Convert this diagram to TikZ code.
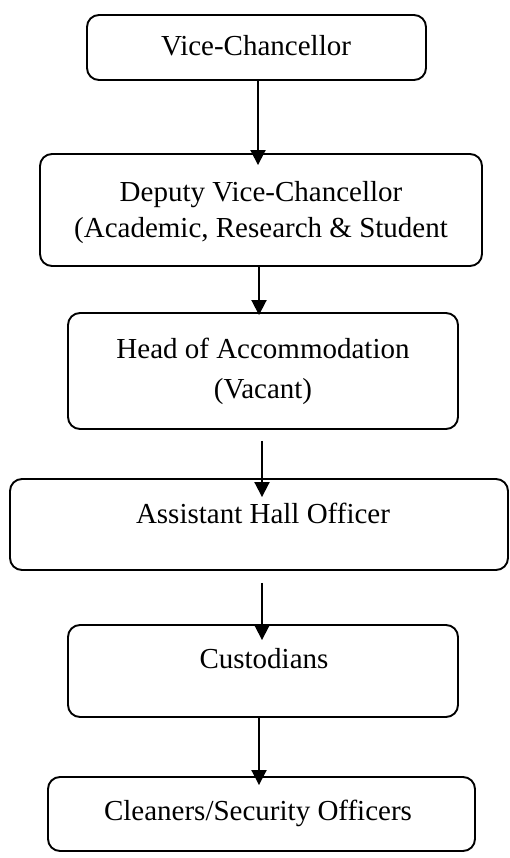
\documentclass[tikz,border=0pt]{standalone}
\usepackage{fontspec}
\setmainfont{Liberation Serif}
\usetikzlibrary{arrows.meta}
\tikzset{
  box/.style={draw=black, line width=1.9pt, rounded corners=12pt, inner sep=0pt},
  txt/.style={anchor=base, inner sep=0pt, align=center, font=\fontsize{29}{36}\selectfont},
  arr/.style={line width=1.9pt, -{Triangle[width=15pt,length=15pt]}}
}
\begin{document}
\begin{tikzpicture}[x=1pt,y=-1pt]
\useasboundingbox[fill=white] (0,0) rectangle (509,858);
% boxes (x: left..right, y: top..bottom)
\node[box, minimum width=339pt, minimum height=65pt] (vc) at (256.5,47.5) {};
\node[box, minimum width=442pt, minimum height=112pt] (dvc) at (261,210) {};
\node[box, minimum width=390pt, minimum height=116pt] (head) at (263,371) {};
\node[box, minimum width=498pt, minimum height=91pt] (aho) at (259,524.5) {};
\node[box, minimum width=390pt, minimum height=92pt] (cust) at (263,671) {};
\node[box, minimum width=427pt, minimum height=74pt] (clean) at (261.5,814) {};
% texts
\node[txt] (vct) at (256,56) {Vice-Chancellor};
\node[txt] (dvct1) at (261,202) {Deputy Vice-Chancellor};
\node[txt] (dvct2) at (261,238) {(Academic, Research \& Student};
\node[txt] (headt1) at (263,358) {Head of Accommodation};
\node[txt] (headt2) at (263,398) {(Vacant)};
\node[txt] (ahot) at (263,523) {Assistant Hall Officer};
\node[txt] (custt) at (264,668) {Custodians};
\node[txt] (cleant) at (258,820) {Cleaners/Security Officers};
% arrows
\draw[arr] ([xshift=1.5pt]vc.south) -- ([xshift=-3pt,yshift=-12pt]dvc.north);
\draw[arr] ([xshift=-2pt]dvc.south) -- ([xshift=-4pt,yshift=-3pt]head.north);
\draw[arr] ([xshift=-1pt,yshift=-11pt]head.south) -- ([xshift=3pt,yshift=-19pt]aho.north);
\draw[arr] ([xshift=3pt,yshift=-12pt]aho.south) -- ([xshift=-1pt,yshift=-16pt]cust.north);
\draw[arr] ([xshift=-4pt]cust.south) -- ([xshift=-2.5pt,yshift=-9pt]clean.north);
\end{tikzpicture}
\end{document}
